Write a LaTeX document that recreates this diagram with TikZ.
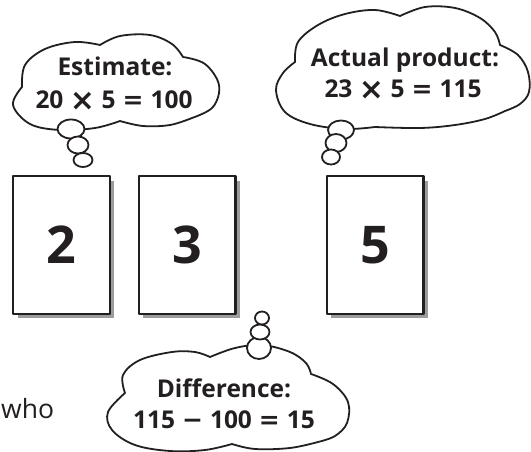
\documentclass[tikz,border=0pt]{standalone}
\usepackage{fontspec}
\setmainfont{Open Sans}
\newfontfamily\opfont{DejaVu Sans}
\usetikzlibrary{shadows}
\definecolor{ink}{HTML}{231F20}
\definecolor{shadowgray}{HTML}{9C9C9C}
\newcommand\opx{\hspace{6.5pt}\raisebox{-1.2pt}{\opfont\fontsize{30}{30}\selectfont ×}\hspace{6.5pt}}
\newcommand\opeq{\hspace{7pt}{\opfont\fontsize{25}{25}\selectfont =}\hspace{7pt}}
\newcommand\opmin{\hspace{7pt}{\opfont\fontsize{25}{25}\selectfont −}\hspace{7pt}}
\begin{document}
\begin{tikzpicture}[x=1pt,y=-1pt,line join=round,
  cloudline/.style={draw=ink,line width=1.8pt,fill=white},
  card/.style={draw=ink,line width=2.4pt,fill=white,minimum width=96.6pt,minimum height=137.6pt,
    text=ink,font=\bfseries\fontsize{52}{60}\selectfont,inner sep=0pt,
    drop shadow={shadow xshift=4.5pt,shadow yshift=-4.5pt,fill=shadowgray,opacity=1}},
  lbl/.style={text=ink,font=\bfseries\fontsize{24.5}{28}\selectfont,anchor=base,inner sep=0pt},
  plain/.style={text=ink,font=\fontsize{26.5}{30}\selectfont,anchor=base west,inner sep=0pt}]
\useasboundingbox (0,0) rectangle (531,452);

% cards
\node[card] (c2) at (61.5,245) {2};
\node[card] (c3) at (187,245) {3};
\node[card] (c5) at (375,245) {5};

% estimate cloud
\draw[cloudline] plot[smooth,tension=0.6] coordinates {(22,87) (25,65) (45,49) (75,42) (100,45)}
  -- plot[smooth,tension=0.6] coordinates {(100,45) (120,36) (150,35) (172,44) (183,57)}
  -- plot[smooth,tension=0.6] coordinates {(183,57) (205,64) (219,85) (213,107) (192,118)}
  -- plot[smooth,tension=0.6] coordinates {(192,118) (170,125) (143,126) (120,121)}
  -- plot[smooth,tension=0.6] coordinates {(120,121) (95,128) (60,130) (30,124) (13,105) (22,87)} -- cycle;
\draw[cloudline] (71,129) ellipse [x radius=13.5pt,y radius=9.5pt];
\draw[cloudline] (78,145) ellipse [x radius=10.5pt,y radius=8.5pt];
\draw[cloudline] (83,160) ellipse [x radius=9.5pt,y radius=7pt];
\node[lbl] (est1) at (115,76) {Estimate:};
\node[lbl] (est2) at (114,109) {20\opx5\opeq100};

% actual product cloud
\draw[cloudline] plot[smooth,tension=0.6] coordinates {(295,62) (298,42) (318,25) (345,14) (375,10) (400,16)}
  -- plot[smooth,tension=0.6] coordinates {(400,16) (425,7) (455,8) (480,18) (495,32) (500,45)}
  -- plot[smooth,tension=0.6] coordinates {(500,45) (518,55) (528,72) (529,92) (520,104) (505,111)}
  -- plot[smooth,tension=0.6] coordinates {(505,111) (485,119) (455,125) (420,128) (375,127)}
  -- plot[smooth,tension=0.6] coordinates {(375,127) (345,129) (310,124) (285,112) (276,90) (283,73) (295,62)} -- cycle;
\draw[cloudline] (341,130) ellipse [x radius=13pt,y radius=9.5pt];
\draw[cloudline] (336,143) ellipse [x radius=10.5pt,y radius=9pt];
\draw[cloudline] (331,157) ellipse [x radius=9pt,y radius=7.5pt];
\node[lbl] (act1) at (405,67) {Actual product:};
\node[lbl] (act2) at (403,98) {23\opx5\opeq115};

% difference cloud
\draw[cloudline] plot[smooth,tension=0.6] coordinates {(125,393) (123,375) (140,360) (172,352) (195,352) (210,357)}
  -- plot[smooth,tension=0.6] coordinates {(210,357) (235,348) (262,345) (290,352) (306,363) (311,374)}
  -- plot[smooth,tension=0.6] coordinates {(311,374) (333,384) (348,402) (347,423) (335,436) (318,442)}
  -- plot[smooth,tension=0.6] coordinates {(318,442) (290,448) (255,449) (232,444)}
  -- plot[smooth,tension=0.6] coordinates {(232,444) (205,450) (170,451) (135,445) (112,430) (108,412) (125,393)} -- cycle;
\draw[cloudline] (259,348) ellipse [x radius=12pt,y radius=11pt];
\draw[cloudline] (260,332) ellipse [x radius=9.5pt,y radius=7.5pt];
\draw[cloudline] (262,318) ellipse [x radius=7pt,y radius=6.5pt];
\node[lbl] (dif1) at (224,397) {Difference:};
\node[lbl] (dif2) at (224,428) {115\opmin100\opeq15};

\node[plain] (who) at (1,418) {who};
\end{tikzpicture}
\end{document}
